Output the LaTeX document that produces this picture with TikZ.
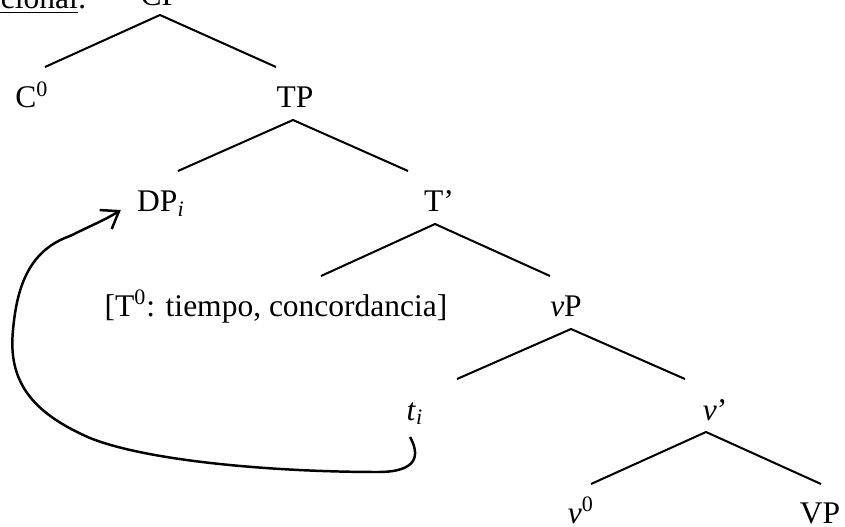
\documentclass[tikz,border=0pt]{standalone}
\usepackage{fontspec}
\setmainfont{Liberation Serif}
\usepackage{tikz}
\usetikzlibrary{arrows.meta,calc}

\begin{document}
\begin{tikzpicture}[x=0.4444pt,y=-0.4444pt,font=\fontsize{14pt}{17pt}\selectfont,
  lbl/.style={anchor=base,inner sep=0pt},
  branch/.style={line width=0.9pt},
  move/.style={line width=1.1pt,-{Straight Barb[length=7pt,width=10pt]}}]
\useasboundingbox (0,0) rectangle (845,527);

\node[lbl,anchor=base east] (head) at (87,9) {\underline{ccional}:};
\node[lbl] (CP) at (160,6) {CP};
\node[lbl] (C0) at (32,108) {C\textsuperscript{0}};
\node[lbl] (TP) at (295,108) {TP};
\node[lbl] (DP) at (161,212) {DP\textsubscript{\textit{i}}};
\node[lbl] (T1) at (439,212) {T’};
\node[lbl] (T0) at (276,316) {[T\textsuperscript{0}: tiempo, concordancia]};
\node[lbl] (vP) at (566,316) {\textit{v}P};
\node[lbl] (ti) at (415,420) {\textit{t}\textsubscript{\textit{i}}};
\node[lbl] (v1) at (715,420) {\textit{v}’};
\node[lbl] (v0) at (581,523) {\textit{v}\textsuperscript{0}};
\node[lbl] (VP) at (820,523) {VP};

\coordinate (CP-d) at (160,15);
\coordinate (C0-u) at (45,67);
\coordinate (TP-u) at (276,67);
\coordinate (TP-d) at (293,120);
\coordinate (DP-u) at (178,171);
\coordinate (T1-u) at (408,171);
\coordinate (T1-d) at (435,224);
\coordinate (T0-u) at (321,276);
\coordinate (vP-u) at (550,276);
\coordinate (vP-d) at (571,329);
\coordinate (ti-u) at (457,379);
\coordinate (v1-u) at (685,379);
\coordinate (v1-d) at (706,432);
\coordinate (v0-u) at (591,484);
\coordinate (VP-u) at (821,484);

\draw[branch] (C0-u) -- (CP-d) -- (TP-u);
\draw[branch] (DP-u) -- (TP-d) -- (T1-u);
\draw[branch] (T0-u) -- (T1-d) -- (vP-u);
\draw[branch] (ti-u) -- (vP-d) -- (v1-u);
\draw[branch] (v0-u) -- (v1-d) -- (VP-u);

% movement of DP from spec vP
\draw[move] ($(ti.base)+(-5,17)$) .. controls (420,455) and (418,472) .. (378,472)
  .. controls (280,472) and (150,462) .. (90,438)
  .. controls (30,412) and (8,380) .. (13,330)
  .. controls (17,285) and (30,250) .. (70,236)
  .. controls (90,226) and (105,220) .. ($(DP.base west)+(-16,-2)$);
\end{tikzpicture}
\end{document}
